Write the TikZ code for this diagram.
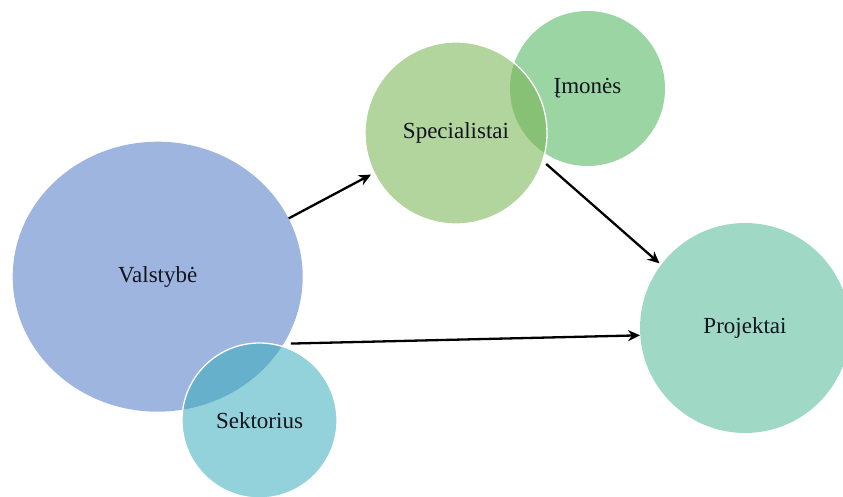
\documentclass[tikz,border=0pt]{standalone}
\usepackage{fontspec}
\setmainfont{Liberation Serif}
\usetikzlibrary{shapes.geometric,arrows.meta}

\definecolor{valc}{RGB}{158,181,224}
\definecolor{sekc}{RGB}{59,173,187}
\definecolor{imoc}{RGB}{156,213,164}
\definecolor{specc}{RGB}{119,179,82}
\definecolor{projc}{RGB}{159,217,198}
\definecolor{txt}{RGB}{20,20,30}

\tikzset{
  bubble/.style={circle, inner sep=0pt, draw=none, text=txt,
    font=\fontsize{23pt}{27pt}\selectfont},
  overlay bubble/.style={bubble, draw=white, line width=1.3pt,
    fill opacity=0.55, text opacity=1},
  flow/.style={-{Stealth[length=12pt,width=11pt]}, line width=2.3pt, black}
}

\begin{document}
\begin{tikzpicture}[x=1pt, y=-1pt]
  \useasboundingbox (0,0) rectangle (843,497);

  % left group: state and sector
  \node[bubble, ellipse, fill=valc, minimum width=290pt, minimum height=270pt]
    (val) at (157.7,276.7) {Valstybė};
  \node[overlay bubble, fill=sekc, minimum size=155pt]
    (sek) at (259.5,420.5) {Sektorius};

  % upper group: companies and specialists
  \node[bubble, fill=imoc, minimum size=155pt]
    (imo) at (587.5,88.5) {Įmonės};
  \node[overlay bubble, fill=specc, fill opacity=0.57, minimum size=182pt]
    (spec) at (456,133) {Specialistai};

  % outcome
  \node[bubble, fill=projc, minimum size=210pt]
    (proj) at (745,328) {Projektai};

  % flows
  \draw[flow, shorten >=3pt] (val.24) -- (spec.206);
  \draw[flow, shorten <=4pt, shorten >=2pt] (spec.-18) -- (proj.143);
  \draw[flow, shorten <=7pt] (val.-28) -- (proj.184);
\end{tikzpicture}
\end{document}
